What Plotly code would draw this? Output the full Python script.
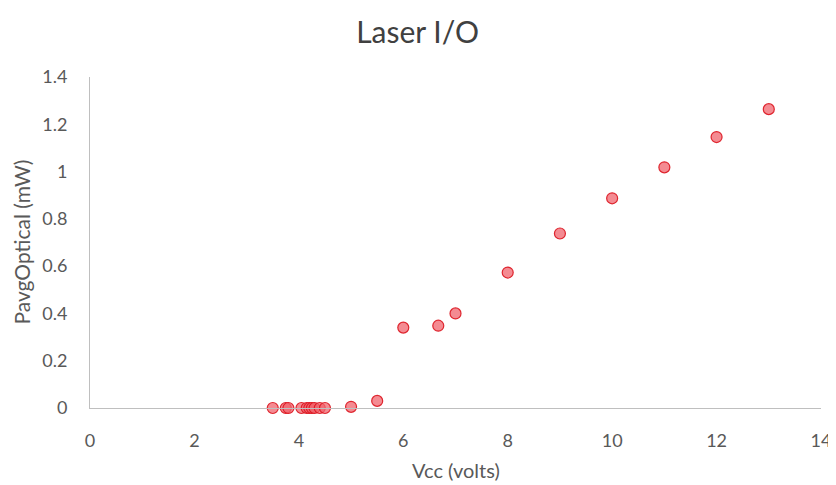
import plotly.graph_objects as go

vcc = [3.5, 3.75, 3.8, 4.05, 4.15, 4.2, 4.25, 4.3, 4.4, 4.5, 5.0, 5.5, 6.0, 6.67, 7.0, 8.0, 9.0, 10.0, 11.0, 12.0, 13.0]
pavg = [0.0, 0.0, 0.0, 0.0, 0.0, 0.0, 0.0, 0.0, 0.0, 0.0, 0.005, 0.03, 0.34, 0.348, 0.40, 0.573, 0.738, 0.887, 1.018, 1.146, 1.264]

x_ticks = [0, 2, 4, 6, 8, 10, 12, 14]
y_ticks = [0, 0.2, 0.4, 0.6, 0.8, 1, 1.2, 1.4]
y_tick_text = ["0", "0.2", "0.4", "0.6", "0.8", "1", "1.2", "1.4"]

fig = go.Figure()
fig.add_trace(go.Scatter(
    x=vcc, y=pavg, mode="markers",
    marker=dict(size=11, color="rgba(240,100,110,0.75)",
                line=dict(color="rgba(220,20,30,0.9)", width=1.2)),
    showlegend=False, cliponaxis=False,
))

font = "Lato, 'Open Sans', sans-serif"
fig.update_layout(
    width=836, height=485,
    margin=dict(l=82, r=23, t=69, b=85),
    paper_bgcolor="white", plot_bgcolor="white",
    title=dict(text="Laser I/O", x=0.49, xanchor="center", y=0.9505, yanchor="middle",
               font=dict(family=font, size=30, color="#404040")),
    font=dict(family=font, color="#595959"),
    xaxis=dict(range=[0, 14], tickvals=x_ticks, showgrid=False, zeroline=False,
               showline=True, linecolor="#bfbfbf", linewidth=1,
               ticks="", tickfont=dict(size=18, color="#595959"),
               ticklabelstandoff=16, automargin=False),
    yaxis=dict(range=[0, 1.4], tickvals=y_ticks, ticktext=y_tick_text, showgrid=False, zeroline=False,
               showline=True, linecolor="#bfbfbf", linewidth=1,
               ticks="", tickfont=dict(size=18, color="#595959"),
               ticklabelstandoff=18, automargin=False),
    annotations=[
        dict(text="Vcc (volts)", xref="paper", yref="paper", x=0.5, y=0,
             xanchor="center", yanchor="middle", yshift=-62, showarrow=False,
             font=dict(family=font, size=20, color="#595959")),
        dict(text="PavgOptical (mW)", xref="paper", yref="paper", x=0, y=0.5,
             xanchor="center", yanchor="middle", xshift=-69, textangle=-90, showarrow=False,
             font=dict(family=font, size=21, color="#595959")),
    ],
)

fig.write_html("out.html")
